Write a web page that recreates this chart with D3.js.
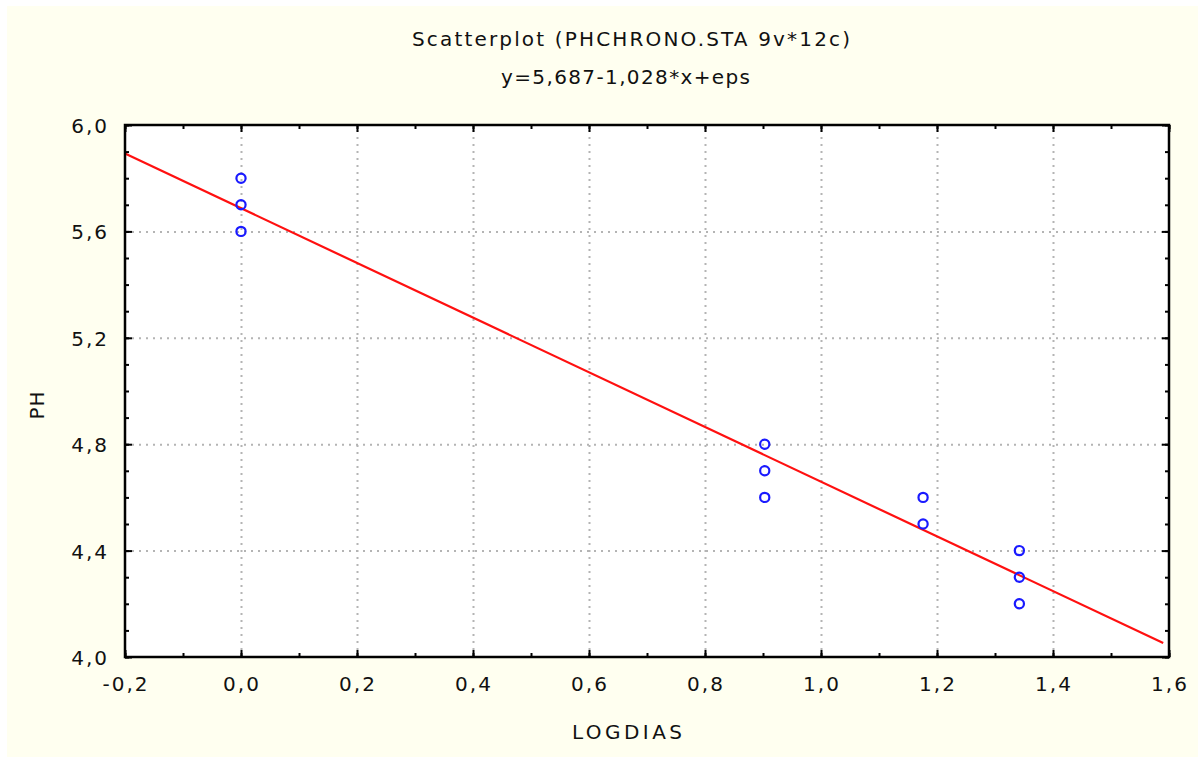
<!DOCTYPE html>
<html>
<head>
<meta charset="utf-8">
<script src="https://cdn.jsdelivr.net/npm/d3@7"></script>
<style>
  body { margin: 0; background: #fff; }
  svg { display: block; }
  text { font-family: "DejaVu Sans", sans-serif; fill: #111; }
</style>
</head>
<body>
<div id="graph"></div>
<script>
// points
const logdias = [0, 0, 0, 0.903, 0.903, 0.903, 1.176, 1.176, 1.342, 1.342, 1.342];
const ph      = [5.8, 5.7, 5.6, 4.8, 4.7, 4.6, 4.6, 4.5, 4.4, 4.3, 4.2];

// fitted line y = 5.687 - 1.028 * x
const fitA = 5.687;
const fitB = -1.028;
const fitX = [-0.2, 1.59];

const xTicks = [-0.2, 0, 0.2, 0.4, 0.6, 0.8, 1.0, 1.2, 1.4, 1.6];
const yTicks = [4.0, 4.4, 4.8, 5.2, 5.6, 6.0];

const title1 = "Scatterplot (PHCHRONO.STA 9v*12c)";
const title2 = "y=5,687-1,028*x+eps";
const xLabel = "LOGDIAS";
const yLabel = "PH";

const width = 1198;
const height = 757;
const pLeft = 125, pRight = 1169, pTop = 125, pBottom = 657;

const svg = d3.select("#graph")
              .append("svg")
              .attr("width", width)
              .attr("height", height);

// cream page with a thin white margin on top/left
svg.append("rect")
   .attr("x", 7).attr("y", 6)
   .attr("width", width - 7).attr("height", height - 6)
   .attr("fill", "#fffff0");

svg.append("rect")
   .attr("x", pLeft).attr("y", pTop)
   .attr("width", pRight - pLeft).attr("height", pBottom - pTop)
   .attr("fill", "#fff");

const xScale = d3.scaleLinear().domain([-0.2, 1.6]).range([pLeft, pRight]);
const yScale = d3.scaleLinear().domain([4.0, 6.0]).range([pBottom, pTop]);

const fmt = d => d3.format(".1f")(d).replace("−", "-").replace(".", ",");
const minorX = d3.range(-0.2, 1.6001, 0.1);
const minorY = d3.range(4.0, 6.0001, 0.1);

// grid
const grid = svg.append("g").attr("class", "grid");
grid.append("g")
    .attr("transform", "translate(0," + pBottom + ")")
    .call(d3.axisBottom(xScale).tickValues(xTicks.slice(1, -1)).tickSize(-(pBottom - pTop)).tickFormat(""));
grid.append("g")
    .attr("transform", "translate(" + pLeft + ",0)")
    .call(d3.axisLeft(yScale).tickValues(yTicks.slice(1, -1)).tickSize(-(pRight - pLeft)).tickFormat(""));
grid.selectAll(".domain").remove();
grid.selectAll("line")
    .attr("stroke", "#b4b4b4")
    .attr("stroke-width", 2)
    .attr("stroke-dasharray", "2,5");

// inward ticks on all four sides
function ticks(axis, tr, values, size) {
  const g = svg.append("g")
               .attr("transform", tr)
               .call(axis.tickValues(values).tickSize(size).tickFormat(""));
  g.select(".domain").remove();
  g.selectAll("line").attr("stroke", "#000").attr("stroke-width", 2);
}
ticks(d3.axisBottom(xScale), "translate(0," + pBottom + ")", xTicks, -7);
ticks(d3.axisBottom(xScale), "translate(0," + pBottom + ")", minorX, -4);
ticks(d3.axisTop(xScale), "translate(0," + pTop + ")", xTicks, -7);
ticks(d3.axisTop(xScale), "translate(0," + pTop + ")", minorX, -4);
ticks(d3.axisLeft(yScale), "translate(" + pLeft + ",0)", yTicks, -7);
ticks(d3.axisLeft(yScale), "translate(" + pLeft + ",0)", minorY, -4);
ticks(d3.axisRight(yScale), "translate(" + pRight + ",0)", yTicks, -7);
ticks(d3.axisRight(yScale), "translate(" + pRight + ",0)", minorY, -4);

// tick labels
svg.append("g").selectAll("text")
   .data(xTicks)
   .enter()
   .append("text")
   .attr("x", d => xScale(d) + 1)
   .attr("y", 691)
   .attr("text-anchor", "middle")
   .style("font-size", "20px")
   .style("letter-spacing", "2px")
   .text(fmt);

svg.append("g").selectAll("text")
   .data(yTicks)
   .enter()
   .append("text")
   .attr("x", 109)
   .attr("y", d => yScale(d) + 8)
   .attr("text-anchor", "end")
   .style("font-size", "20px")
   .style("letter-spacing", "2px")
   .text(fmt);

// regression line
const line = d3.line()
               .x(d => xScale(d))
               .y(d => yScale(fitA + fitB * d));
svg.append("path")
   .datum(fitX)
   .attr("d", line)
   .attr("fill", "none")
   .attr("stroke", "#ff1010")
   .attr("stroke-width", 2.2);

// points
svg.append("g").selectAll("circle")
   .data(logdias.map((x, i) => [x, ph[i]]))
   .enter()
   .append("circle")
   .attr("cx", d => xScale(d[0]))
   .attr("cy", d => yScale(d[1]))
   .attr("r", 4.6)
   .attr("fill", "none")
   .attr("stroke", "#1a1aff")
   .attr("stroke-width", 2.2);

// frame
svg.append("rect")
   .attr("x", pLeft).attr("y", pTop)
   .attr("width", pRight - pLeft).attr("height", pBottom - pTop)
   .attr("fill", "none")
   .attr("stroke", "#000")
   .attr("stroke-width", 2.5);

// titles
svg.append("text")
   .attr("x", 412).attr("y", 46)
   .attr("textLength", 438).attr("lengthAdjust", "spacing")
   .style("font-size", "20px")
   .text(title1);
svg.append("text")
   .attr("x", 501).attr("y", 84)
   .attr("textLength", 249).attr("lengthAdjust", "spacing")
   .style("font-size", "20px")
   .text(title2);
svg.append("text")
   .attr("x", 572).attr("y", 739)
   .attr("textLength", 110).attr("lengthAdjust", "spacing")
   .style("font-size", "20px")
   .text(xLabel);
svg.append("text")
   .attr("transform", "translate(44,405) rotate(-90)")
   .attr("text-anchor", "middle")
   .style("font-size", "20px")
   .style("letter-spacing", "1px")
   .text(yLabel);
</script>
</body>
</html>
